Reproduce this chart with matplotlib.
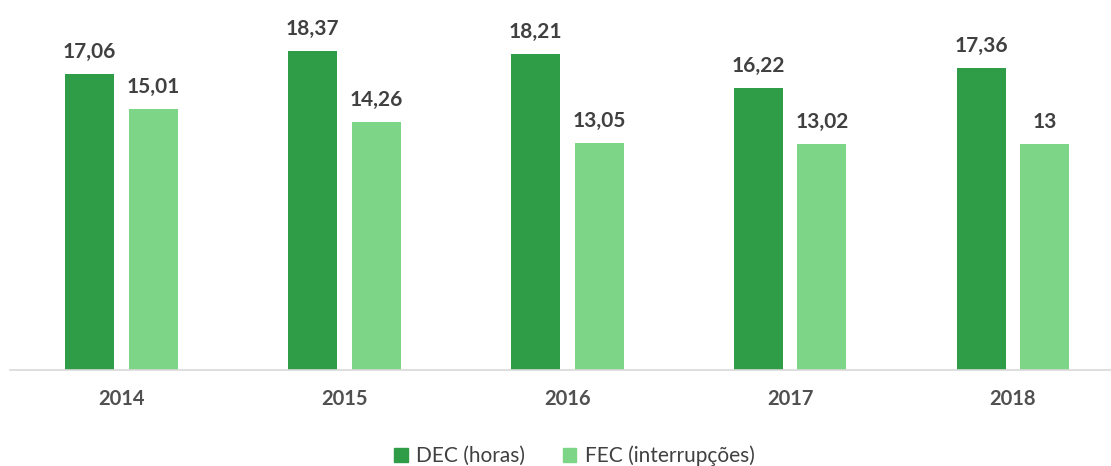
import numpy as np
import matplotlib.pyplot as plt
from matplotlib.patches import Patch

years = ['2014', '2015', '2016', '2017', '2018']
dec = [17.06, 18.37, 18.21, 16.22, 17.36]
fec = [15.01, 14.26, 13.05, 13.02, 13.00]
dec_lbl = ['17,06', '18,37', '18,21', '16,22', '17,36']
fec_lbl = ['15,01', '14,26', '13,05', '13,02', '13']

c_dec = '#2f9c48'
c_fec = '#7dd587'
c_txt = '#404040'

plt.rcParams['font.family'] = ['Lato', 'DejaVu Sans']

fig = plt.figure(figsize=(11.11, 4.66), dpi=100)
ax = fig.add_axes([0.009, 0.206, 0.991, 0.794])

x = np.arange(len(years))
w = 0.22
off = 0.143
b1 = ax.bar(x - off, dec, w, color=c_dec)
b2 = ax.bar(x + off, fec, w, color=c_fec)

for rect, s in zip(b1, dec_lbl):
    ax.text(rect.get_x() + rect.get_width() / 2, rect.get_height() + 0.7, s,
            ha='center', va='bottom', fontsize=15, fontweight='bold', color=c_txt)
for rect, s in zip(b2, fec_lbl):
    ax.text(rect.get_x() + rect.get_width() / 2, rect.get_height() + 0.7, s,
            ha='center', va='bottom', fontsize=15, fontweight='bold', color=c_txt)

ax.set_xlim(-0.5, 4.44)
ax.set_ylim(0, 21.3)
ax.set_yticks([])
ax.set_xticks(x)
ax.set_xticklabels(years, fontsize=14.5, fontweight='bold', color='#505050')
ax.tick_params(axis='x', length=0, pad=14)
for s in ['top', 'right', 'left']:
    ax.spines[s].set_visible(False)
ax.spines['bottom'].set_color('#d9d9d9')
ax.spines['bottom'].set_linewidth(1.2)

handles = [Patch(color=c_dec, label='DEC (horas)'),
           Patch(color=c_fec, label='FEC (interrupções)')]
fig.legend(handles=handles, loc='lower center', bbox_to_anchor=(0.517, -0.04),
           ncol=2, frameon=False, fontsize=15, handlelength=0.65, handleheight=0.65,
           handletextpad=0.4, columnspacing=1.8, labelcolor='#404040')

fig.savefig('out.png', dpi=100)
